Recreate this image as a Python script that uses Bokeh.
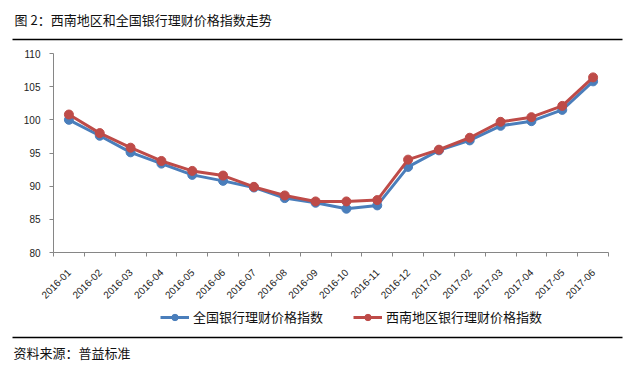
from math import pi
from bokeh.plotting import figure
from bokeh.models import Range1d, FixedTicker, Legend, LegendItem, ColumnDataSource
from bokeh.core.properties import value
from bokeh.embed import file_html
from bokeh.resources import INLINE

months = ["2016-01", "2016-02", "2016-03", "2016-04", "2016-05", "2016-06",
          "2016-07", "2016-08", "2016-09", "2016-10", "2016-11", "2016-12",
          "2017-01", "2017-02", "2017-03", "2017-04", "2017-05", "2017-06"]
national = [100.0, 97.6, 95.1, 93.4, 91.7, 90.8, 89.8, 88.2, 87.5, 86.6, 87.1, 92.9,
            95.4, 96.9, 99.1, 99.8, 101.5, 105.8]
southwest = [100.8, 98.0, 95.8, 93.8, 92.3, 91.6, 89.9, 88.6, 87.7, 87.7, 87.9, 94.0,
             95.5, 97.3, 99.7, 100.4, 102.1, 106.4]
y_ticks = [80, 85, 90, 95, 100, 105, 110]
name_national = "全国银行理财价格指数"
name_southwest = "西南地区银行理财价格指数"
title_text = "图 2：西南地区和全国银行理财价格指数走势"
source_text = "资料来源：普益标准"

BLUE = "#4A7EBB"
RED = "#BE4B48"
AX = "#868686"
CJK = "Noto Sans CJK SC"
W = 626


def blank_fig(h):
    f = figure(width=W, height=h, output_backend="svg", toolbar_location=None,
               x_range=Range1d(0, W), y_range=Range1d(h, 0),
               x_axis_location=None, y_axis_location=None,
               min_border=0, min_border_left=0, min_border_right=0,
               min_border_top=0, min_border_bottom=0)
    f.outline_line_color = None
    f.xgrid.visible = False
    f.ygrid.visible = False
    return f


xs = [i + 0.5 for i in range(len(months))]
src = ColumnDataSource(dict(x=xs, n=national, s=southwest))

# ---- header: title + rule
top = blank_fig(44)
top.text(x=[14], y=[19], text=[title_text], text_font=value(CJK), text_font_size="13px",
         text_baseline="middle", text_color="#111111")
top.segment(x0=[12], y0=[39], x1=[622], y1=[39], line_color="black", line_width=1.5)

# ---- main chart
p = figure(width=W, height=262, output_backend="svg", toolbar_location=None,
           x_range=Range1d(0, len(months)), y_range=Range1d(80, 110),
           min_border_left=53, min_border_right=18, min_border_top=9, min_border_bottom=54)
p.outline_line_color = None
p.xgrid.visible = False
p.ygrid.visible = False

p.xaxis.ticker = FixedTicker(ticks=xs, minor_ticks=list(range(len(months) + 1)))
p.xaxis.major_label_overrides = {x: m for x, m in zip(xs, months)}
p.xaxis.major_label_orientation = pi / 4
p.xaxis.major_tick_out = 0
p.xaxis.major_tick_in = 0
p.xaxis.minor_tick_out = 4
p.xaxis.minor_tick_in = 0
p.xaxis.minor_tick_line_color = AX
p.xaxis.axis_line_color = AX
p.xaxis.major_label_standoff = 14
p.xaxis.major_label_text_font = "Liberation Sans"
p.xaxis.major_label_text_font_size = "10px"
p.xaxis.major_label_text_color = "#222222"

p.yaxis.ticker = FixedTicker(ticks=y_ticks, minor_ticks=[])
p.yaxis.major_tick_out = 4
p.yaxis.major_tick_in = 0
p.yaxis.major_tick_line_color = AX
p.yaxis.axis_line_color = AX
p.yaxis.major_label_standoff = 9
p.yaxis.major_label_text_font = "Liberation Sans"
p.yaxis.major_label_text_font_size = "10px"
p.yaxis.major_label_text_color = "#222222"

p.line("x", "n", source=src, line_color=BLUE, line_width=3)
p.scatter("x", "n", source=src, size=9, fill_color=BLUE, line_color=BLUE)
p.line("x", "s", source=src, line_color=RED, line_width=3)
p.scatter("x", "s", source=src, size=9, fill_color=RED, line_color=RED)

# ---- footer: legend, rule, source
bot = blank_fig(60)
# legend entries reuse the series styles (renderers kept hidden in this strip)
bl = bot.line("x", "n", source=src, line_color=BLUE, line_width=3, visible=False)
bm = bot.scatter("x", "n", source=src, size=9, fill_color=BLUE, line_color=BLUE, visible=False)
rl = bot.line("x", "s", source=src, line_color=RED, line_width=3, visible=False)
rm = bot.scatter("x", "s", source=src, size=9, fill_color=RED, line_color=RED, visible=False)
legend = Legend(items=[LegendItem(label=name_national, renderers=[bl, bm]),
                       LegendItem(label=name_southwest, renderers=[rl, rm])],
                orientation="horizontal", location=(160, 40),
                border_line_color=None, background_fill_alpha=0,
                inactive_fill_alpha=0,
                label_text_font=CJK, label_text_font_size="13px",
                label_text_color="#111111", label_height=16,
                label_standoff=4, glyph_width=29, glyph_height=16,
                spacing=30, padding=0, margin=0)
bot.add_layout(legend, "center")
bot.segment(x0=[12], y0=[31], x1=[622], y1=[31], line_color="black", line_width=1.5)
bot.text(x=[13], y=[46], text=[source_text], text_font=value(CJK), text_font_size="13px",
         text_baseline="middle", text_color="#111111")

open("out.html", "w").write(file_html([top, p, bot], INLINE))
